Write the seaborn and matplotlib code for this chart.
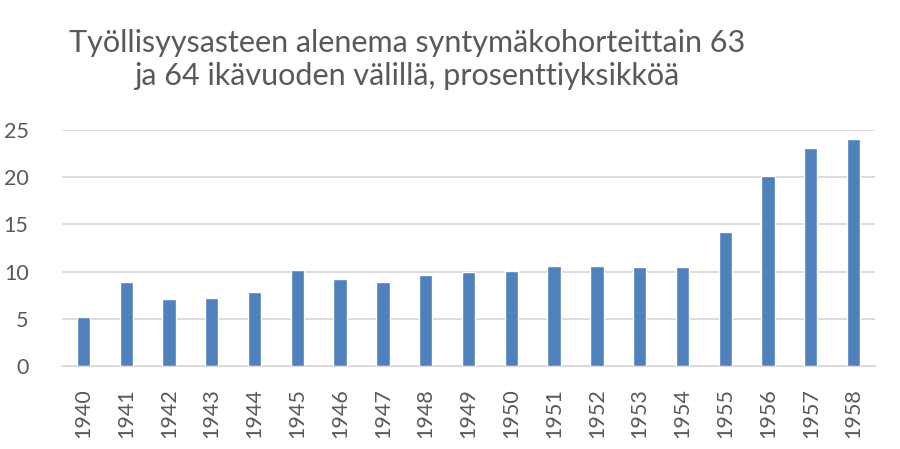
import matplotlib
matplotlib.use("Agg")
import matplotlib.pyplot as plt
import seaborn as sns
import pandas as pd

years = ["1940", "1941", "1942", "1943", "1944", "1945", "1946", "1947", "1948", "1949",
         "1950", "1951", "1952", "1953", "1954", "1955", "1956", "1957", "1958"]
values = [5.2, 8.9, 7.1, 7.2, 7.8, 10.2, 9.2, 8.9, 9.6, 9.95,
          10.06, 10.55, 10.62, 10.45, 10.52, 14.24, 20.15, 23.1, 24.0]
yticks = [0, 5, 10, 15, 20, 25]
title = "Työllisyysasteen alenema syntymäkohorteittain 63\nja 64 ikävuoden välillä, prosenttiyksikköä"

sns.set_theme(style="white")
plt.rcParams['font.family'] = ['Lato', 'DejaVu Sans']

df = pd.DataFrame({"year": years, "value": values})

fig = plt.figure(figsize=(9, 4.49), dpi=100)
ax = fig.add_axes([62/900, 1 - 366/449, (875-62)/900, (366-130)/449])
sns.barplot(data=df, x="year", y="value", color="#4F81BD", width=0.31,
            saturation=1, ax=ax, zorder=3)
ax.set_ylim(0, 25)
ax.set_yticks(yticks)
ax.set_xlim(-0.5, len(years) - 0.5)
ax.yaxis.grid(True, color="#D9D9D9", linewidth=1.3, zorder=0)
ax.set_axisbelow(True)
for s in ["top", "right", "left"]:
    ax.spines[s].set_visible(False)
ax.spines["bottom"].set_color("#D9D9D9")
ax.spines["bottom"].set_linewidth(1.3)
ax.set_xlabel("")
ax.set_ylabel("")
ax.tick_params(axis="x", labelrotation=90, labelsize=15.5, colors="#595959", length=0, pad=16)
ax.tick_params(axis="y", labelsize=15.5, colors="#595959", length=0, pad=24)
for lbl in ax.get_yticklabels():
    lbl.set_horizontalalignment("right")
fig.text(0.452, 0.868, title, ha="center", va="center", fontsize=22,
         color="#595959", linespacing=1.22)
fig.savefig("out.png", dpi=100, facecolor="white")
